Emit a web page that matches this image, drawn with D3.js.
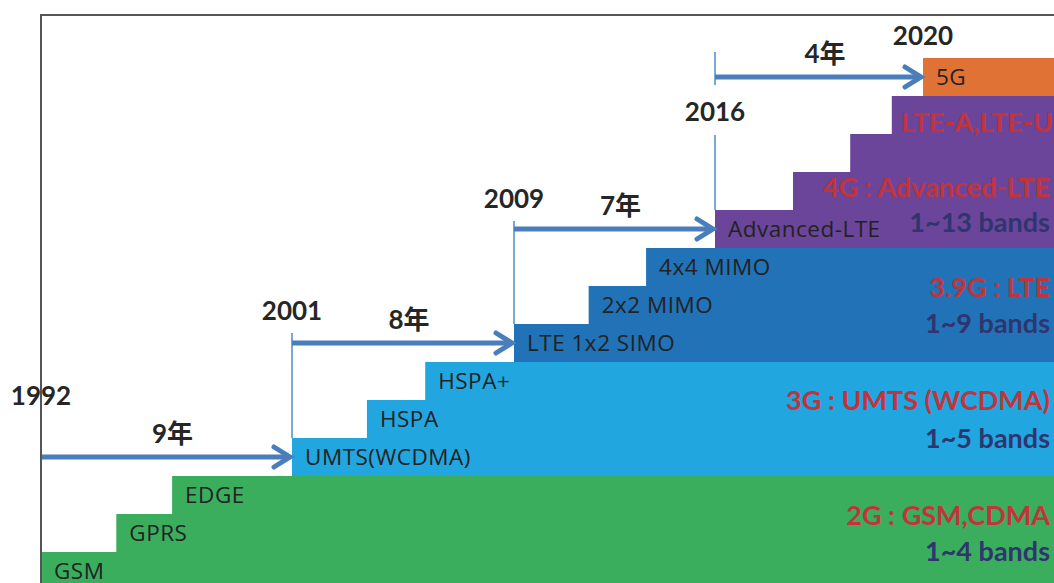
<!DOCTYPE html>
<html lang="zh">

<head>
    <meta charset="UTF-8">
    <title>移动通信演进</title>
    <style>
        html, body { margin: 0; padding: 0; background: #fff; }
        svg { display: block; }
    </style>
</head>

<body>
    <div id="graph"></div>
    <script src="https://d3js.org/d3.v7.min.js"></script>

    <script>
        const WIDTH = 1054;
        const HEIGHT = 583;

        // steps of the staircase
        const STEP_NAMES = ["GSM", "GPRS", "EDGE", "UMTS(WCDMA)", "HSPA", "HSPA+", "LTE 1x2 SIMO", "2x2 MIMO", "4x4 MIMO",
            "Advanced-LTE", "", "", "", "5G"];
        const STEP_START = [1992, 1994.7, 1996.7, 2001, 2003.7, 2005.8, 2009, 2011.6, 2013.6, 2016, 2017.5, 2018.6, 2019.4, 2020];
        const STEP_LEVEL = [1, 2, 3, 4, 5, 6, 7, 8, 9, 10, 11, 12, 13, 14];
        const STEP_GEN = ["2G", "2G", "2G", "3G", "3G", "3G", "3.9G", "3.9G", "3.9G", "4G", "4G", "4G", "4G", "5G"];

        // generations
        const GENS = ["2G", "3G", "3.9G", "4G", "5G"];
        const GEN_BASE = [0, 3, 6, 9, 13];
        const GEN_TITLES = ["2G : GSM,CDMA", "3G : UMTS (WCDMA)", "3.9G : LTE", "4G : Advanced-LTE", ""];
        const GEN_BANDS = ["1~4 bands", "1~5 bands", "1~9 bands", "1~13 bands", ""];
        const EXTRA_TITLE = "LTE-A,LTE-U";

        // milestones
        const YEARS = [1992, 2001, 2009, 2016, 2020];
        const GAPS = ["9年", "8年", "7年", "4年"];

        // layout
        const GEN_COLORS = { "2G": "#3bae5e", "3G": "#22a6df", "3.9G": "#2172b6", "4G": "#6a459a", "5G": "#e07236" };
        const TITLE_LEVEL = [1.71, 4.74, 7.71, 10.34];
        const BANDS_LEVEL = [0.76, 3.74, 6.76, 9.42];
        const EXTRA_LEVEL = 12.05;
        const YEAR_DY = [-52, -23, -21, 44, -13];
        const LINE_TOP = [0, 10, 8, 25];
        const RED = "#c1343b";
        const NAVY = "#2f356f";
        const ARROW = "#4a7ebb";
        const BOLD_FONT = "Lato, 'Noto Sans CJK JP', sans-serif";
        const TEXT_FONT = "'Open Sans', 'Noto Sans', sans-serif";

        const xScale = d3.scaleLinear()
            .domain([1992, 2001, 2009, 2016, 2020, 2023])
            .range([41, 292, 514, 715, 923, 1079]);

        const yScale = d3.scaleLinear()
            .domain([0, 14])
            .range([590, 58]);

        const steps = STEP_NAMES.map((name, i) => ({
            name: name,
            start: STEP_START[i],
            level: STEP_LEVEL[i],
            gen: STEP_GEN[i],
            base: GEN_BASE[GENS.indexOf(STEP_GEN[i])]
        }));

        const svg = d3.select("#graph")
            .append("svg")
            .attr("width", WIDTH)
            .attr("height", HEIGHT);

        // staircase blocks
        svg.append("g")
            .selectAll("rect")
            .data(steps)
            .enter()
            .append("rect")
            .attr("x", d => xScale(d.start))
            .attr("y", d => yScale(d.level))
            .attr("width", d => WIDTH + 40 - xScale(d.start))
            .attr("height", d => yScale(d.base) - yScale(d.level))
            .attr("fill", d => GEN_COLORS[d.gen]);

        svg.append("g")
            .selectAll("text")
            .data(steps.filter(d => d.name))
            .enter()
            .append("text")
            .attr("x", d => xScale(d.start) + 13)
            .attr("y", d => yScale(d.level) + 27)
            .attr("font-family", TEXT_FONT)
            .attr("font-size", 22.5)
            .attr("letter-spacing", 0.5)
            .attr("fill", "#222")
            .text(d => d.name);

        // generation labels on the right
        const genLabels = svg.append("g")
            .attr("font-family", BOLD_FONT)
            .attr("font-weight", "bold")
            .attr("font-size", 27)
            .attr("text-anchor", "end");

        genLabels.selectAll(".title")
            .data(GEN_TITLES.slice(0, 4))
            .enter()
            .append("text")
            .attr("x", 1050)
            .attr("y", (d, i) => yScale(TITLE_LEVEL[i]))
            .attr("fill", RED)
            .text(d => d);

        genLabels.selectAll(".bands")
            .data(GEN_BANDS.slice(0, 4))
            .enter()
            .append("text")
            .attr("x", 1050)
            .attr("y", (d, i) => yScale(BANDS_LEVEL[i]))
            .attr("fill", NAVY)
            .text(d => d);

        genLabels.append("text")
            .attr("x", 1053)
            .attr("y", yScale(EXTRA_LEVEL))
            .attr("fill", RED)
            .text(EXTRA_TITLE);

        // milestones
        const levelAt = year => STEP_LEVEL[STEP_START.indexOf(year)];
        const anchorY = YEARS.map((year, i) => i < YEARS.length - 1
            ? yScale(levelAt(YEARS[i + 1]) - 0.5)
            : yScale(levelAt(year)));

        const marks = svg.append("g");

        YEARS.forEach((year, i) => {
            if (i === 0 || i === YEARS.length - 1) return;
            const xPos = xScale(year);
            const top = anchorY[i] - LINE_TOP[i];
            const bottom = yScale(levelAt(year));
            const labelY = anchorY[i] + YEAR_DY[i];
            const segs = YEAR_DY[i] > 0
                ? [[top, labelY - 36], [labelY + 14, bottom]]
                : [[top, bottom]];
            marks.selectAll(null)
                .data(segs)
                .enter()
                .append("line")
                .attr("x1", xPos)
                .attr("x2", xPos)
                .attr("y1", d => d[0])
                .attr("y2", d => d[1])
                .attr("stroke", "#5b92cf")
                .attr("stroke-width", 1.6);
        });

        GAPS.forEach((gap, i) => {
            const x0 = xScale(YEARS[i]);
            const tip = xScale(YEARS[i + 1]) - 2;
            const yPos = anchorY[i];
            marks.append("line")
                .attr("x1", x0)
                .attr("x2", tip - 3)
                .attr("y1", yPos)
                .attr("y2", yPos)
                .attr("stroke", ARROW)
                .attr("stroke-width", 5);
            marks.append("path")
                .attr("d", `M${tip - 16},${yPos - 10} L${tip},${yPos} L${tip - 16},${yPos + 10}`)
                .attr("fill", "none")
                .attr("stroke", ARROW)
                .attr("stroke-width", 5)
                .attr("stroke-linecap", "round");
            marks.append("text")
                .attr("x", (x0 + tip) / 2 + 7)
                .attr("y", yPos - 14)
                .attr("text-anchor", "middle")
                .attr("font-family", BOLD_FONT)
                .attr("font-weight", "bold")
                .attr("font-size", 26)
                .attr("fill", "#262626")
                .text(gap);
        });

        marks.selectAll(".year")
            .data(YEARS)
            .enter()
            .append("text")
            .attr("x", d => xScale(d))
            .attr("y", (d, i) => anchorY[i] + YEAR_DY[i])
            .attr("text-anchor", "middle")
            .attr("font-family", BOLD_FONT)
            .attr("font-weight", "bold")
            .attr("font-size", 26)
            .attr("fill", "#262626")
            .text(d => d);

        // frame
        svg.append("path")
            .attr("d", `M${xScale(1992)},${HEIGHT} V15 H${WIDTH}`)
            .attr("fill", "none")
            .attr("stroke", "#555")
            .attr("stroke-width", 2);
    </script>
</body>

</html>
